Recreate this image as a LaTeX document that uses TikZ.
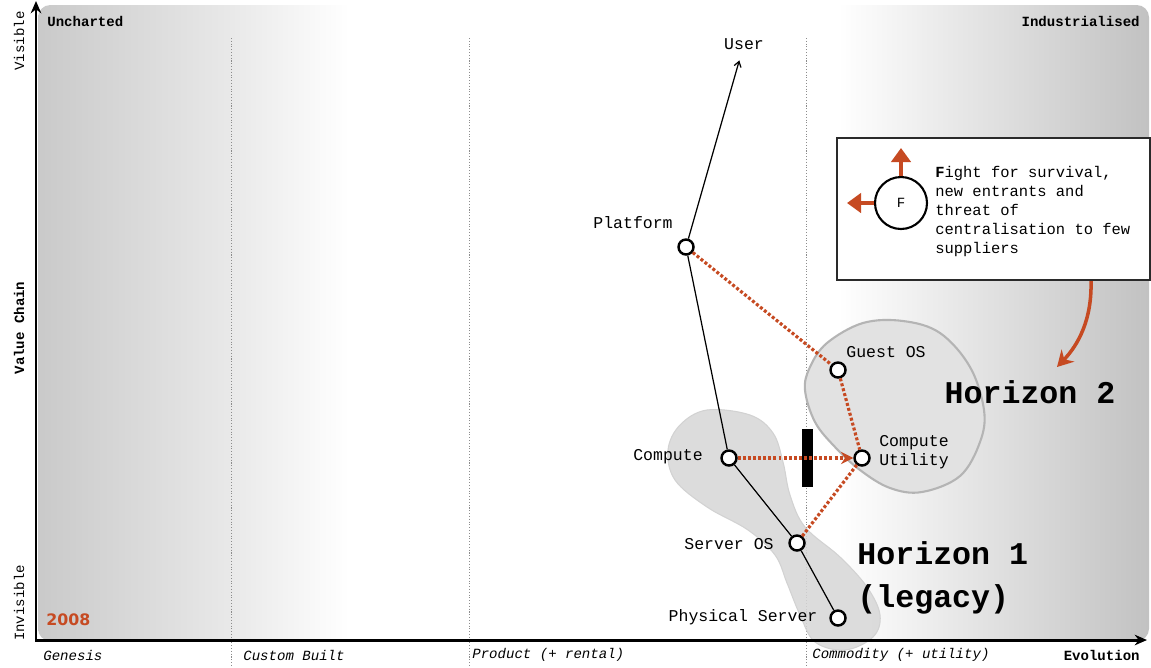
\documentclass[tikz,border=0pt]{standalone}
\usepackage{fontspec}
\setmainfont{Liberation Mono}
\newfontfamily\yearfont{DejaVu Sans}
\usepackage{tikz}
\usetikzlibrary{positioning, arrows.meta, calc}
\definecolor{map-red}{HTML}{C64A22}
\definecolor{map-dark}{HTML}{2A2A2A}
\definecolor{map-blob}{HTML}{E2E2E2}
\definecolor{map-edge}{HTML}{B4B4B4}
\definecolor{map-grid}{HTML}{8C8C8C}
\pgfdeclarehorizontalshading{evolution}{100bp}{color(0bp)=(black!21); color(25bp)=(black!21); color(33.5bp)=(black!9); color(39bp)=(white); color(61bp)=(white); color(75bp)=(black!24); color(100bp)=(black!24)}

\begin{document}
\begin{tikzpicture}[x=0.02cm, y=-0.02cm,
    comp/.style={circle, draw, fill=white, line width=1.4pt, minimum size=0.3cm, inner sep=0pt},
    lbl/.style={font=\fontsize{9.4}{11}\selectfont, inner sep=1pt},
    stage/.style={font=\fontsize{8}{9}\selectfont\itshape, inner sep=0pt},
    corner/.style={font=\fontsize{8}{9}\selectfont, inner sep=0pt},
    horizon/.style={font=\fontsize{18}{24.5}\selectfont\bfseries, align=left, inner sep=0pt},
    link/.style={line width=0.7pt},
    flow/.style={map-red, line width=1.8pt, dash pattern=on 1.7pt off 1.2pt},
    push/.style={map-red, line width=2.4pt, -{Triangle[length=8pt, width=11pt]}},
    divider/.style={map-grid, line width=0.5pt, dash pattern=on 0.6pt off 1pt},
    blob/.style={fill=map-blob, draw=map-edge},
]
    \useasboundingbox (0,0) rectangle (1151,667);

    % Background and stages
    \shade[shading=evolution, rounded corners=7pt] (38,5) rectangle (1149,641);
    \foreach \x in {231, 469, 806}
        \draw[divider] (\x,38) -- (\x,667);

    \node[corner, font=\fontsize{8}{9}\selectfont\bfseries, anchor=west] (uncharted) at (47,21) {Uncharted};
    \node[corner, font=\fontsize{8}{9}\selectfont\bfseries, anchor=east] (industrial) at (1140,21) {Industrialised};
    \node[corner, rotate=90] (visible) at (19,41) {Visible};
    \node[corner, rotate=90, font=\fontsize{8}{9}\selectfont\bfseries] (chain) at (19,328) {Value Chain};
    \node[corner, rotate=90] (invisible) at (19,603) {Invisible};
    \node[anchor=west, inner sep=0pt, text=map-red, font=\yearfont\bfseries\fontsize{9}{10}\selectfont] (year) at (46,620) {2008};

    \node[stage, anchor=west] (genesis)   at (43,655)  {Genesis};
    \node[stage, anchor=west] (custom)    at (243,655) {Custom Built};
    \node[stage, anchor=west] (product)   at (472,655) {Product (+ rental)};
    \node[stage, anchor=west] (commodity) at (812,655) {Commodity (+ utility)};
    \node[corner, font=\fontsize{8}{9}\selectfont\bfseries, anchor=east] (evolution) at (1140,655) {Evolution};

    % Horizons
    \draw[blob, fill=map-blob!95!black, draw=map-edge!60, line width=0.6pt, fill opacity=0.85] plot[smooth cycle, tension=0.6] coordinates {
        (707,410) (750,415) (773,433) (783,462) (790,495) (805,527) (840,557) (867,587)
        (880,615) (873,637) (845,650) (815,642) (800,615) (787,583) (775,555) (748,530)
        (707,507) (675,480) (668,450) (680,425)};
    \draw[blob, line width=1.2pt] plot[smooth cycle, tension=0.6] coordinates {
        (805,390) (815,422) (835,447) (860,470) (890,488) (922,492) (960,476) (980,442)
        (984,410) (970,367) (940,333) (903,321) (863,323) (827,343) (810,367)};

    % Axes
    \coordinate (origin) at (36,640);
    \coordinate (vtop) at (36,1);
    \coordinate (etop) at (1147,640);
    \draw[line width=1.7pt, {Stealth[length=7pt, width=6pt]}-{Stealth[length=7pt, width=6pt]}] (vtop) -- (origin) -- (etop);

    % Components
    \node[comp] (platform) at (686,247) {};
    \node[comp] (guestos)  at (838,370) {};
    \node[comp] (compute)  at (729,458) {};
    \node[comp] (cutil)    at (862,458) {};
    \node[comp] (serveros) at (797,543) {};
    \node[comp] (physical) at (838,618) {};

    \node[lbl, inner sep=6pt] (user) at (744,44) {User};
    \node[lbl] (platformlbl) at (633,223) {Platform};
    \node[lbl] (guestlbl)    at (886,352) {Guest OS};
    \node[lbl] (computelbl)  at (668,457) {Compute};
    \node[lbl, align=left] (cutillbl) at (914,452) {Compute\\Utility};
    \node[lbl] (serverlbl)   at (729,544) {Server OS};
    \node[lbl] (physicallbl) at (743,617) {Physical Server};

    % Inertia
    \fill (802,429) rectangle (813,487);

    % Links
    \draw[link, -{Straight Barb[length=3pt, width=4pt]}] (platform) -- (user);
    \draw[link] (platform) -- (compute) -- (serveros) -- (physical);
    \draw[flow] (platform) -- (guestos);
    \draw[flow] (guestos) -- (cutil);
    \draw[flow] (serveros) -- (cutil);
    \draw[flow, -{Stealth[length=7pt, width=7pt]}] (compute) -- (cutil);

    % Note
    \node[draw=map-dark, fill=white, line width=1.2pt, minimum width=6.26cm, minimum height=2.84cm,
          anchor=north west] (note) at (836,137) {};
    \node[circle, draw, line width=1.2pt, minimum size=1.04cm, inner sep=0pt,
          font=\fontsize{8}{9}\selectfont] (force) at (901,203) {F};
    \coordinate (forceup) at (901,148);
    \coordinate (forceleft) at (847,203);
    \draw[push] (force) -- (forceup);
    \draw[push] (force) -- (forceleft);
    \node[anchor=north west, align=left, inner sep=0pt, font=\fontsize{8.8}{10.8}\selectfont] (notetxt) at (935,166)
        {\textbf{F}ight for survival,\\new entrants and\\threat of\\centralisation to few\\suppliers};

    \node[horizon] (horizon2) at (1030,392) {Horizon 2};
    \node[horizon, anchor=west] (horizon1) at (857,578) {Horizon 1\\(legacy)};

    \coordinate (notecurl) at ($(note.south west)+(255,0)$);
    \coordinate (h2tip) at (1057,367);
    \draw[map-red, line width=2pt, -{Stealth[length=9pt, width=10pt, inset=3pt]}]
        (notecurl) .. controls (1092,320) and (1078,345) .. (h2tip);
\end{tikzpicture}
\end{document}
